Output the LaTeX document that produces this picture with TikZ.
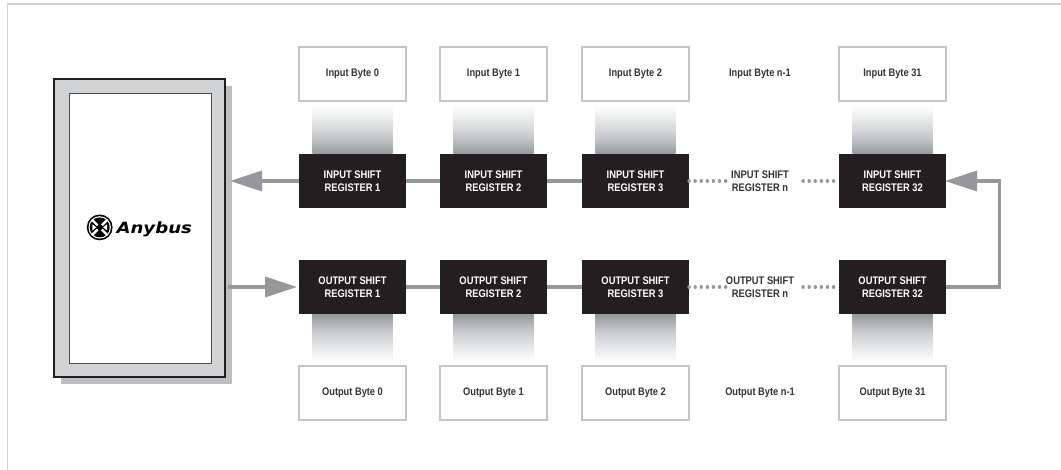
\documentclass[tikz,border=0pt]{standalone}
\usepackage{fontspec}
\setmainfont[FakeStretch=0.85]{Liberation Sans}
\newfontfamily\logofont[FakeStretch=1.17]{DejaVu Sans}
\usetikzlibrary{arrows.meta,calc}
\definecolor{arrowgray}{HTML}{96979B}
\definecolor{regblack}{HTML}{231F20}
\definecolor{boxgray}{HTML}{C4C5C7}
\definecolor{hostgray}{HTML}{D1D3D4}
\definecolor{shadowgray}{HTML}{BCBEC0}
\definecolor{framegray}{HTML}{D0D0D0}
\definecolor{textdark}{HTML}{333333}
\definecolor{fadeA}{HTML}{ABACAF}
\definecolor{fadeB}{HTML}{C2C3C6}
\definecolor{fadeC}{HTML}{D6D7D9}
\definecolor{fadeD}{HTML}{EBECED}
\pgfdeclareverticalshading{fadeshade}{100bp}{
  color(0bp)=(arrowgray);
  color(25bp)=(arrowgray);
  color(32bp)=(fadeA);
  color(40bp)=(fadeB);
  color(50bp)=(fadeC);
  color(62bp)=(fadeD);
  color(75bp)=(white);
  color(100bp)=(white)}
\tikzset{
  bytebox/.style={draw=boxgray,line width=1.1pt,fill=white,minimum width=107pt,minimum height=54pt,inner sep=0pt,outer sep=0pt,text=textdark,font=\bfseries\fontsize{10.9}{13}\selectfont},
  bytelabel/.style={inner sep=0pt,outer sep=0pt,text=textdark,font=\bfseries\fontsize{10.9}{13}\selectfont},
  regbox/.style={fill=regblack,minimum width=107pt,minimum height=54pt,inner sep=0pt,outer sep=0pt,align=center,text=white,font=\bfseries\fontsize{11}{13}\selectfont},
  reglabel/.style={inner sep=0pt,outer sep=0pt,align=center,minimum width=68pt,text=textdark,font=\bfseries\fontsize{11}{13}\selectfont},
  wire/.style={draw=arrowgray,line width=3.4pt},
  dotwire/.style={draw=arrowgray,line width=3.4pt,line cap=round,dash pattern=on 0.1pt off 6pt},
  arrowwire/.style={wire,-{Triangle[length=32pt,width=20pt]}},
  fade/.style={shading=fadeshade},
  fadeup/.style={shading=fadeshade,shading angle=180},
}
\begin{document}
\begin{tikzpicture}[x=1pt,y=-1pt]
\useasboundingbox (0,0) rectangle (1061,470);
\fill[white] (0,0) rectangle (1061,470);
% frame
\draw[framegray,line width=1.3pt] (7.5,470) -- (7.5,4) -- (1061,4);
% gradients
\foreach \cx in {352.5,493.5,635.5,892.5}{
  \shade[fade] (\cx-40,105) rectangle (\cx+40,154);
  \shade[fadeup] (\cx-40,314) rectangle (\cx+40,362);
}
% host
\fill[shadowgray] (61,86) rectangle (232,384);
\node[draw=regblack,line width=1.2pt,fill=hostgray,minimum width=171pt,minimum height=298pt,inner sep=0pt,outer sep=0pt] (host) at (139.5,228) {};
\node[draw=black!70,line width=0.9pt,fill=white,minimum width=142pt,minimum height=270pt,inner sep=0pt,outer sep=0pt] (hostin) at (140,228) {};
% logo
\fill[black] (99.7,227.4) circle (12.9);
\fill[white] (99.7,227.4) circle (11.2);
\fill[black] (99.7,227.4) circle (10);
\foreach \a in {45,135,225,315}{
  \draw[white,line width=2.4pt] (99.7,227.4) ++(\a:3) -- ++(\a:8);
}
\foreach \a in {0,180}{
  \fill[white] (99.7,227.4) ++(\a:3.4) -- ++(\a+38:5) -- ++(\a-90:6.2) -- cycle;
}
\node[anchor=base west,inner sep=0pt,outer sep=0pt,font=\logofont\bfseries\itshape\fontsize{15.5}{16}\selectfont] (logo) at (116.5,233.3) {Anybus};
% top bytes
\node[bytebox] (ib0) at (352.5,74) {Input Byte 0};
\node[bytebox] (ib1) at (493.5,74) {Input Byte 1};
\node[bytebox] (ib2) at (635.5,74) {Input Byte 2};
\node[bytelabel] (ibn) at (760,73.5) {Input Byte n-1};
\node[bytebox] (ib31) at (892.5,74) {Input Byte 31};
% bottom bytes
\node[bytebox] (ob0) at (352.5,393) {Output Byte 0};
\node[bytebox] (ob1) at (493.5,393) {Output Byte 1};
\node[bytebox] (ob2) at (635.5,393) {Output Byte 2};
\node[bytelabel] (obn) at (760,392.5) {Output Byte n-1};
\node[bytebox] (ob31) at (892.5,393) {Output Byte 31};
% input registers
\node[regbox] (ir1) at (352.5,181) {INPUT SHIFT\\REGISTER 1};
\node[regbox] (ir2) at (493.5,181) {INPUT SHIFT\\REGISTER 2};
\node[regbox] (ir3) at (635.5,181) {INPUT SHIFT\\REGISTER 3};
\node[reglabel] (irn) at (760,181) {INPUT SHIFT\\REGISTER n};
\node[regbox] (ir32) at (892.5,181) {INPUT SHIFT\\REGISTER 32};
% output registers
\node[regbox] (or1) at (352.5,287) {OUTPUT SHIFT\\REGISTER 1};
\node[regbox] (or2) at (493.5,287) {OUTPUT SHIFT\\REGISTER 2};
\node[regbox] (or3) at (635.5,287) {OUTPUT SHIFT\\REGISTER 3};
\node[reglabel] (orn) at (760,287) {OUTPUT SHIFT\\REGISTER n};
\node[regbox] (or32) at (892.5,287) {OUTPUT SHIFT\\REGISTER 32};
% connectors
\draw[wire] (ir2.west) -- (ir1.east);
\draw[wire] (ir3.west) -- (ir2.east);
\draw[wire] (or1.east) -- (or2.west);
\draw[wire] (or2.east) -- (or3.west);
\draw[dotwire] (ir3.east) -- (irn.west);
\draw[dotwire,shorten <=9pt] (irn.east) -- (ir32.west);
\draw[dotwire] (or3.east) -- (orn.west);
\draw[dotwire,shorten <=9pt] (orn.east) -- (or32.west);
\draw[arrowwire,shorten >=5pt] (ir1.west) -- (ir1.west -| host.east);
\draw[arrowwire,shorten <=3pt,shorten >=2pt] (or1.west -| host.east) -- (or1.west);
\draw[arrowwire,shorten >=-1pt] (or32.east) -- ++(53.5,0) |- (ir32.east);
\end{tikzpicture}
\end{document}
